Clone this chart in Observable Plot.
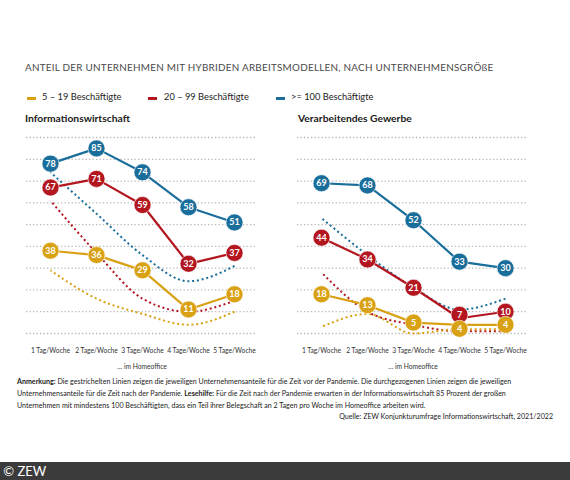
<!DOCTYPE html>
<html><head><meta charset="utf-8">
<script src="https://cdn.jsdelivr.net/npm/d3@7"></script>
<script src="https://cdn.jsdelivr.net/npm/@observablehq/plot@0.6"></script>
<style>
html,body{margin:0;padding:0;background:#fff;}
#page{position:relative;width:570px;height:480px;overflow:hidden;font-family:Lato,"Open Sans",sans-serif;}
.abs{position:absolute;white-space:nowrap;}
#title{left:25px;top:61px;font-size:9.9px;color:#4a4a4a;letter-spacing:0.25px;}
.leg{top:91px;font-size:9.3px;color:#222;}
.sw{position:absolute;top:97px;width:9px;height:2.5px;}
.ptitle{top:112px;font-size:10.3px;font-weight:bold;color:#1a1a1a;}
#note{left:17px;top:376px;width:540px;font-size:7.1px;line-height:12px;color:#222;white-space:normal;}
#quelle{right:17px;top:412px;font-size:7.1px;color:#222;}
#footer{left:0;top:462px;width:570px;height:18px;background:#3b3b3b;color:#fff;font-size:13px;line-height:18px;}
</style></head>
<body><div id="page">
<div id="title" class="abs">ANTEIL DER UNTERNEHMEN MIT HYBRIDEN ARBEITSMODELLEN, NACH UNTERNEHMENSGRÖßE</div>
<div id="legend"></div>
<div class="abs ptitle" style="left:25px">Informationswirtschaft</div>
<div class="abs ptitle" style="left:298px">Verarbeitendes Gewerbe</div>
<div id="left" class="abs" style="left:0;top:128px"></div>
<div id="right" class="abs" style="left:271px;top:128px"></div>
<div id="note" class="abs"><b>Anmerkung:</b> Die gestrichelten Linien zeigen die jeweiligen Unternehmensanteile für die Zeit vor der Pandemie. Die durchgezogenen Linien zeigen die jeweiligen<br>Unternehmensanteile für die Zeit nach der Pandemie. <b>Lesehilfe:</b> Für die Zeit nach der Pandemie erwarten in der Informationswirtschaft 85 Prozent der großen<br>Unternehmen mit mindestens 100 Beschäftigten, dass ein Teil ihrer Belegschaft an 2 Tagen pro Woche im Homeoffice arbeiten wird.</div>
<div id="quelle" class="abs">Quelle: ZEW Konjunkturumfrage Informationswirtschaft, 2021/2022</div>
<div id="footer" class="abs">&nbsp;© ZEW</div>
</div>
<script>
const days = ["1 Tag/Woche", "2 Tage/Woche", "3 Tage/Woche", "4 Tage/Woche", "5 Tage/Woche"];
const groups = ["5 – 19 Beschäftigte", "20 – 99 Beschäftigte", ">= 100 Beschäftigte"];
const colors = ["#d9a114", "#b3161f", "#1a6e9b"];
const yTicks = [0, 10, 20, 30, 40, 50, 60, 70, 80, 90];

// Informationswirtschaft — nach der Pandemie (durchgezogen)
const infoAfterSmall = [38, 36, 29, 11, 18];
const infoAfterMid = [67, 71, 59, 32, 37];
const infoAfterLarge = [78, 85, 74, 58, 51];
// Informationswirtschaft — vor der Pandemie (gestrichelt)
const infoBeforeSmall = [29, 16, 9, 4, 10];
const infoBeforeMid = [61, 37, 16, 10, 15];
const infoBeforeLarge = [74, 55, 36, 24, 31];

// Verarbeitendes Gewerbe — nach der Pandemie
const manuAfterSmall = [18, 13, 5, 4, 4];
const manuAfterMid = [44, 34, 21, 7, 10];
const manuAfterLarge = [69, 68, 52, 33, 30];
// Verarbeitendes Gewerbe — vor der Pandemie
const manuBeforeSmall = [3, 9, 0, 2, 2];
const manuBeforeMid = [28, 10, 4, 1, 1];
const manuBeforeLarge = [53, 36, 21, 11, 16];

// rows: drawn large group first so the small group's marks sit on top
function rows(series) {
  const out = [];
  series.forEach((vals, gi) => vals.forEach((v, i) => out.push({day: days[i], group: groups[gi], value: v})));
  return out.reverse();
}

// mark circles that would collide with another circle of the same day
function withNudge(data) {
  return data.map(d => {
    let nudge = 0;
    for (const o of data) {
      if (o === d || o.day !== d.day) continue;
      if (Math.abs(o.value - d.value) < 5) nudge = d.value < o.value ? 1 : -1;
    }
    return {...d, nudge};
  });
}

// legend
const legPos = [[27, 42], [148, 164], [276, 291]];
const legend = document.getElementById("legend");
groups.forEach((g, i) => {
  const sw = document.createElement("div");
  sw.className = "sw"; sw.style.left = legPos[i][0] + "px"; sw.style.background = colors[i];
  legend.appendChild(sw);
  const t = document.createElement("div");
  t.className = "abs leg"; t.style.left = legPos[i][1] + "px"; t.textContent = g;
  legend.appendChild(t);
});

function bubbles(data) {
  const marks = [];
  for (const [n, dy] of [[0, 0], [-1, -3.5], [1, 4]]) {
    const sub = data.filter(d => d.nudge === n);
    marks.push(
      Plot.dot(sub, {x: "day", y: "value", dy, fill: "group", r: 8.5, stroke: "white", strokeWidth: 0.6}),
      Plot.text(sub, {x: "day", y: "value", dy, text: d => String(d.value), fill: "white", fontSize: 9, fontWeight: "bold"})
    );
  }
  return marks;
}

function panel(after, before, width, marginRight) {
  const pts = withNudge(after);
  return Plot.plot({
    width, height: 245,
    marginTop: 9, marginBottom: 40, marginLeft: 26, marginRight,
    x: {type: "point", domain: days, padding: 0.5, label: null},
    y: {domain: [0, 90], axis: null},
    color: {domain: groups, range: colors},
    style: {fontFamily: "Lato, sans-serif", background: "transparent", overflow: "visible"},
    marks: [
      Plot.ruleY(yTicks, {stroke: "#b8b8b8", strokeWidth: 1.3, strokeDasharray: "1.3,2.2"}),
      Plot.line(before, {x: "day", y: "value", z: "group", stroke: "group", strokeWidth: 2, strokeDasharray: "2,2.8", strokeLinecap: "butt", curve: "monotone-x"}),
      Plot.line(after, {x: "day", y: "value", z: "group", stroke: "group", strokeWidth: 2.2}),
      ...bubbles(pts),
      Plot.axisX({tickSize: 0, tickPadding: 15, fontSize: 6.7, color: "#333", label: "… im Homeoffice", labelAnchor: "center", labelArrow: "none", labelOffset: 35})
    ]
  });
}

document.getElementById("left").appendChild(panel(
  rows([infoAfterSmall, infoAfterMid, infoAfterLarge]),
  rows([infoBeforeSmall, infoBeforeMid, infoBeforeLarge]), 271, 14));
document.getElementById("right").appendChild(panel(
  rows([manuAfterSmall, manuAfterMid, manuAfterLarge]),
  rows([manuBeforeSmall, manuBeforeMid, manuBeforeLarge]), 285, 28));
</script>
</body></html>
